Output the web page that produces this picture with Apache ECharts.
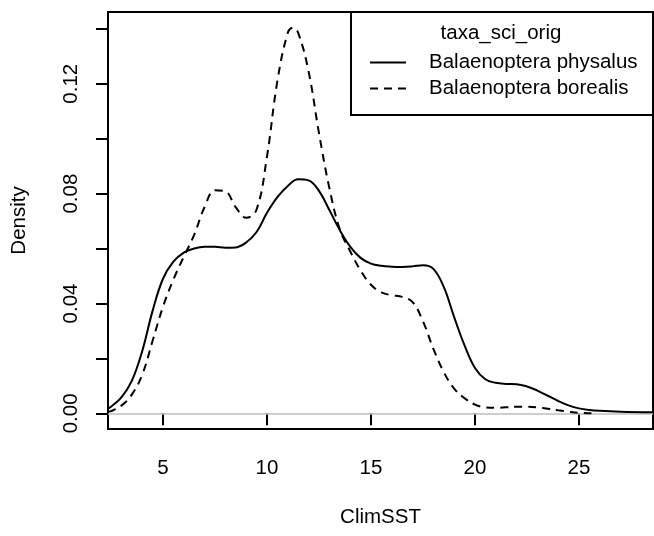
<!DOCTYPE html>
<html>
<head>
<meta charset="utf-8">
<script src="https://cdn.jsdelivr.net/npm/echarts@6/dist/echarts.min.js"></script>
<style>
html,body{margin:0;padding:0;background:#fff;}
#chart{width:654px;height:536px;}
</style>
</head>
<body>
<div id="chart"></div>
<script>
// ---- data ----
var physalusSST = [2.36, 2.5, 3.0, 3.5, 4.0, 4.5, 5.0, 5.5, 6.0, 6.5, 7.0, 7.5, 8.0, 8.5, 9.0, 9.5, 10.0, 10.5, 11.0, 11.5, 12.0, 12.5, 13.0, 13.5, 14.0, 14.5, 15.0, 15.5, 16.0, 16.5, 17.0, 17.5, 18.0, 18.5, 19.0, 19.5, 20.0, 20.5, 21.0, 21.5, 22.0, 22.5, 23.0, 23.5, 24.0, 24.5, 25.0, 25.5, 26.0, 27.0, 28.56];
var physalusDensity = [0.0018, 0.0024, 0.0058, 0.0118, 0.0226, 0.0373, 0.0490, 0.0552, 0.0585, 0.0600, 0.0606, 0.0606, 0.0603, 0.0604, 0.0622, 0.0660, 0.0730, 0.0787, 0.0828, 0.0852, 0.0848, 0.0810, 0.0740, 0.0667, 0.0607, 0.0566, 0.0545, 0.0537, 0.0534, 0.0533, 0.0535, 0.0539, 0.0526, 0.0460, 0.0350, 0.0247, 0.0165, 0.0124, 0.0111, 0.0107, 0.0106, 0.0098, 0.0083, 0.0064, 0.0045, 0.0029, 0.0018, 0.0012, 0.0009, 0.0006, 0.0004];
var borealisSST = [2.36, 2.5, 3.0, 3.5, 4.0, 4.5, 5.0, 5.5, 6.0, 6.5, 7.0, 7.5, 8.0, 8.5, 9.0, 9.5, 10.0, 10.5, 11.0, 11.25, 11.5, 12.0, 12.5, 13.0, 13.5, 14.0, 14.5, 15.0, 15.5, 16.0, 16.5, 17.0, 17.5, 18.0, 18.5, 19.0, 19.5, 20.0, 20.5, 21.0, 21.5, 22.0, 22.5, 23.0, 23.5, 24.0, 24.5, 25.0, 25.6];
var borealisDensity = [0.0006, 0.0008, 0.0028, 0.0068, 0.0140, 0.0264, 0.0388, 0.0487, 0.0570, 0.0650, 0.0751, 0.0812, 0.0808, 0.0750, 0.0712, 0.0742, 0.0935, 0.1210, 0.1385, 0.1404, 0.1385, 0.1245, 0.1020, 0.0820, 0.0670, 0.0590, 0.0520, 0.0468, 0.0440, 0.0430, 0.0424, 0.0405, 0.0335, 0.0235, 0.0150, 0.0090, 0.0055, 0.0032, 0.0022, 0.0020, 0.0022, 0.0024, 0.0024, 0.0022, 0.0017, 0.0011, 0.0006, 0.0002, 0.0];
var seriesNames = ['Balaenoptera physalus', 'Balaenoptera borealis'];
var legendTitle = 'taxa_sci_orig';
var xTicks = [5, 10, 15, 20, 25];
var yTicks = [0, 0.02, 0.04, 0.06, 0.08, 0.10, 0.12, 0.14];
var yLabels = [0, 0.04, 0.08, 0.12];
var xName = 'ClimSST';
var yName = 'Density';

var FONT = 'Liberation Sans, Arial, Helvetica, sans-serif';
var FS = 20.5;
var chart = echarts.init(document.getElementById('chart'), null, {renderer: 'canvas'});

function pairs(xs, ys) { return xs.map(function (x, i) { return [x, ys[i]]; }); }

var option = {
  animation: false,
  backgroundColor: '#ffffff',
  textStyle: {fontFamily: FONT},
  grid: {left: 108, right: 1, top: 12, bottom: 107, show: true, borderColor: '#000', borderWidth: 2, backgroundColor: 'transparent'},
  xAxis: {
    type: 'value', min: 2.356, max: 28.56,
    axisLine: {show: false},
    splitLine: {show: false},
    axisTick: {show: true, inside: false, length: 12, lineStyle: {color: '#000', width: 2}, customValues: xTicks},
    axisLabel: {show: true, customValues: xTicks, margin: 29, color: '#000', fontSize: FS, fontFamily: FONT,
      formatter: function (v) { return String(v); }},
    name: xName, nameLocation: 'middle', nameGap: 78,
    nameTextStyle: {color: '#000', fontSize: FS, fontFamily: FONT}
  },
  yAxis: {
    type: 'value', min: -0.0057, max: 0.1461,
    axisLine: {show: false},
    splitLine: {show: false},
    axisTick: {show: true, inside: false, length: 12, lineStyle: {color: '#000', width: 2}, customValues: yTicks},
    axisLabel: {show: true, customValues: yLabels, rotate: 90, margin: 26, color: '#000', fontSize: FS, fontFamily: FONT,
      formatter: function (v) { return (+v).toFixed(2); }},
    name: yName, nameLocation: 'middle', nameGap: 78,
    nameTextStyle: {color: '#000', fontSize: FS, fontFamily: FONT}
  },
  legend: {
    orient: 'vertical', left: 369, top: 52,
    itemWidth: 36, itemHeight: 14, itemGap: 5,
    padding: 0, z: 10,
    itemStyle: {opacity: 0},
    textStyle: {color: '#000', fontSize: FS, fontFamily: FONT, padding: [0, 0, 0, 18], lineHeight: 21},
    data: seriesNames
  },
  graphic: [
    {type: 'rect', shape: {x: 351, y: 12, width: 302, height: 103}, style: {fill: '#fff', stroke: '#000', lineWidth: 2}, z: 1},
    {type: 'text', x: 501, y: 33, style: {text: legendTitle, font: FS + 'px ' + FONT, fill: '#000', textAlign: 'center', textVerticalAlign: 'middle'}, z: 2}
  ],
  series: [
    {
      name: seriesNames[0], type: 'line', data: pairs(physalusSST, physalusDensity),
      smooth: 0.4, symbol: 'none', showSymbol: false,
      lineStyle: {color: '#000', width: 2, type: 'solid'}, itemStyle: {color: '#000'},
      markLine: {silent: true, symbol: 'none', label: {show: false},
        lineStyle: {color: '#bebebe', width: 1.5, type: 'solid'}, data: [{yAxis: 0}], z: 1},
      z: 3
    },
    {
      name: seriesNames[1], type: 'line', data: pairs(borealisSST, borealisDensity),
      smooth: 0.4, symbol: 'none', showSymbol: false,
      lineStyle: {color: '#000', width: 2, type: [8, 6]}, itemStyle: {color: '#000'},
      z: 3
    }
  ]
};
chart.setOption(option);
</script>
</body>
</html>
